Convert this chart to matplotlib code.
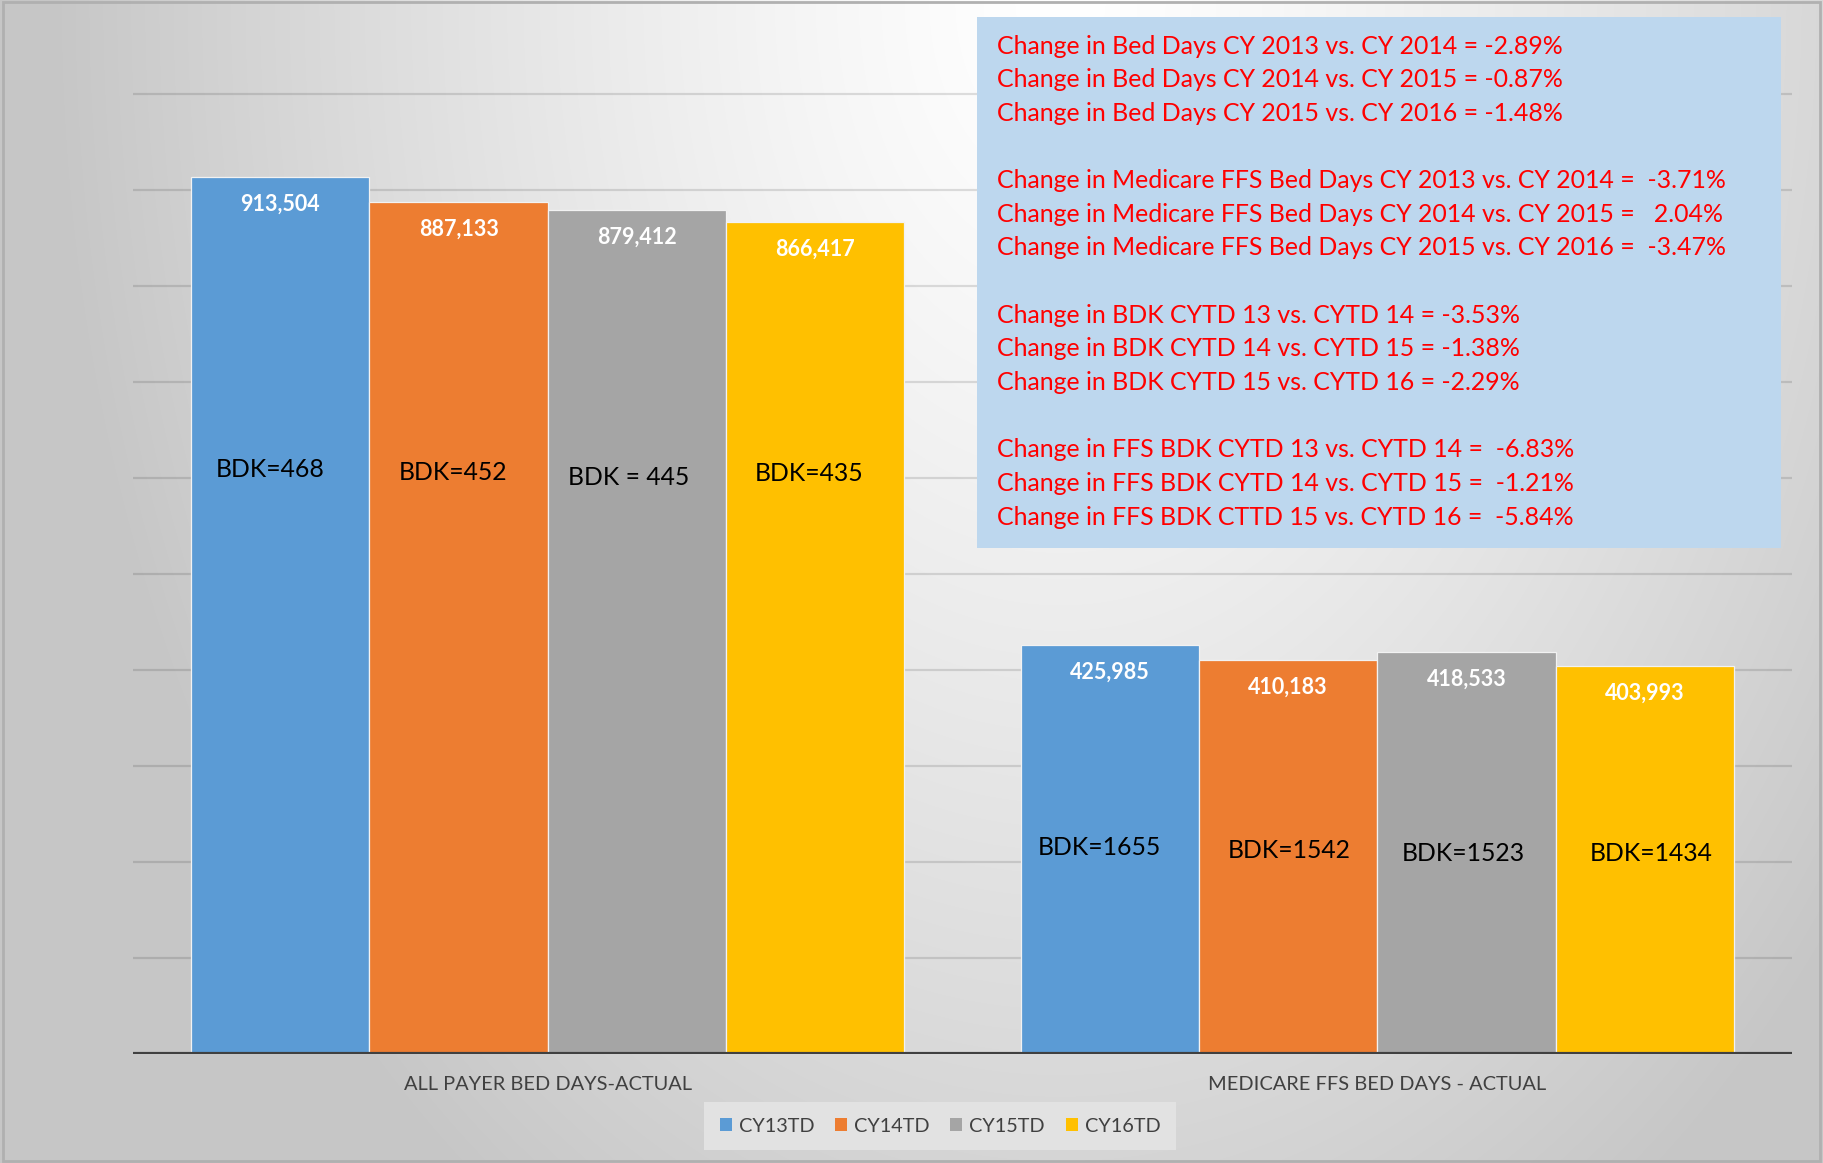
import numpy as np
import matplotlib
matplotlib.use("Agg")
import matplotlib.pyplot as plt
from matplotlib.patches import Rectangle, Patch

# ---------------- data ----------------
categories = ["ALL PAYER BED DAYS-ACTUAL", "MEDICARE FFS BED DAYS - ACTUAL"]
series_names = ["CY13TD", "CY14TD", "CY15TD", "CY16TD"]
cy13td = [913504, 425985]
cy14td = [887133, 410183]
cy15td = [879412, 418533]
cy16td = [866417, 403993]
bdk_cy13 = ["BDK=468", "BDK=1655"]
bdk_cy14 = ["BDK=452", "BDK=1542"]
bdk_cy15 = ["BDK = 445", "BDK=1523"]
bdk_cy16 = ["BDK=435", "BDK=1434"]
note_lines = [
    "Change in Bed Days CY 2013 vs. CY 2014 = -2.89%",
    "Change in Bed Days CY 2014 vs. CY 2015 = -0.87%",
    "Change in Bed Days CY 2015 vs. CY 2016 = -1.48%",
    "",
    "Change in Medicare FFS Bed Days CY 2013 vs. CY 2014 =  -3.71%",
    "Change in Medicare FFS Bed Days CY 2014 vs. CY 2015 =   2.04%",
    "Change in Medicare FFS Bed Days CY 2015 vs. CY 2016 =  -3.47%",
    "",
    "Change in BDK CYTD 13 vs. CYTD 14 = -3.53%",
    "Change in BDK CYTD 14 vs. CYTD 15 = -1.38%",
    "Change in BDK CYTD 15 vs. CYTD 16 = -2.29%",
    "",
    "Change in FFS BDK CYTD 13 vs. CYTD 14 =  -6.83%",
    "Change in FFS BDK CYTD 14 vs. CYTD 15 =  -1.21%",
    "Change in FFS BDK CTTD 15 vs. CYTD 16 =  -5.84%",
]

values = [cy13td, cy14td, cy15td, cy16td]
bdk_labels = [bdk_cy13, bdk_cy14, bdk_cy15, bdk_cy16]

# ---------------- layout / style ----------------
colors = ["#5B9BD5", "#ED7D31", "#A5A5A5", "#FFC000"]
bdk_label_y = [[609000, 215200], [606200, 212500], [600100, 209000], [605000, 209000]]
bdk_dx_px = [[-10, -10], [-6, 1], [-8, -3], [-6, 6]]

W, H = 1823, 1163
DPI = 100
FONT = "Lato"
fig = plt.figure(figsize=(W / DPI, H / DPI), dpi=DPI)

# background gradient
bg = fig.add_axes([0, 0, 1, 1], zorder=-10)
yy, xx = np.mgrid[0:H, 0:W]
cx = 1060.0
t = np.sqrt(((xx - cx) / 1000.0) ** 2 + (yy / 1450.0) ** 2)
val = 1.0 - 0.22 * np.clip(t, 0, 1.0) ** 1.3
img = np.dstack([val, val, val])
bg.imshow(img, aspect="auto", extent=[0, 1, 0, 1], origin="upper")
bg.set_xlim(0, 1)
bg.set_ylim(0, 1)
bg.axis("off")

# main axes
left_px, right_px = 133, 1792
base_px = 1054
px_per_unit = 960 / 1e6
ytop = 1.02e6
top_px = base_px - ytop * px_per_unit
ax = fig.add_axes([left_px / W, (H - base_px) / H, (right_px - left_px) / W,
                   (base_px - top_px) / H])
ax.set_facecolor("none")
ax.set_xlim(-0.5, 1.5)
ax.set_ylim(0, ytop)

x = np.arange(len(categories))
w = 0.215
offsets = (np.arange(4) - 1.5) * w

for gy in np.arange(100000, 1000001, 100000):
    ax.axhline(gy, color="black", alpha=0.12, lw=1.6, zorder=0)

for i in range(4):
    bars = ax.bar(x + offsets[i], values[i], w, color=colors[i],
                  edgecolor="#f2f2f2", linewidth=0.9, zorder=2)
    for j, b in enumerate(bars):
        ax.annotate(f"{values[i][j]:,}", (b.get_x() + b.get_width() / 2, values[i][j]),
                    xytext=(0, -19.5), textcoords="offset points", ha="center", va="center",
                    color="white", fontsize=15.5, fontweight="bold", family=FONT, zorder=4)
        ax.annotate(bdk_labels[i][j], (b.get_x() + b.get_width() / 2, bdk_label_y[i][j]),
                    xytext=(bdk_dx_px[i][j] * 0.72, 0), textcoords="offset points",
                    ha="center", va="center", color="black", fontsize=17.8,
                    family=FONT, zorder=4)

ax.axhline(0, color="#404040", lw=3, zorder=5)
for s in ax.spines.values():
    s.set_visible(False)
ax.set_yticks([])
ax.set_xticks(x)
ax.set_xticklabels(categories, fontsize=14.4, color="#404040", family=FONT)
ax.tick_params(axis="x", length=0, pad=16)

# legend
handles = [Patch(facecolor=c, edgecolor="none") for c in colors]
leg = fig.legend(handles, series_names, loc="center", ncol=4,
                 bbox_to_anchor=(940 / W, (H - 1126) / H), frameon=True,
                 prop={"family": FONT, "size": 14.3}, handlelength=0.6, handleheight=0.6,
                 handletextpad=0.35, columnspacing=1.05, borderpad=0.8)
leg.get_frame().set_facecolor("#e2e2e2")
leg.get_frame().set_edgecolor("none")
leg.get_frame().set_alpha(1)
leg.get_frame().set_boxstyle("square", pad=0)
for txt in leg.get_texts():
    txt.set_color("#404040")

# note box
bx0, bx1, by0, by1 = 977, 1781, 17, 548
fig.patches.append(Rectangle((bx0 / W, (H - by1) / H), (bx1 - bx0) / W, (by1 - by0) / H,
                             transform=fig.transFigure, facecolor="#BDD7EE",
                             edgecolor="none", zorder=6))
line_y0 = 46
pitch = 33.65
for k, line in enumerate(note_lines):
    if line:
        fig.text(997 / W, (H - (line_y0 + k * pitch)) / H, line, color="#FF0000",
                 fontsize=17.9, family=FONT, ha="left", va="center", zorder=7)

# outer border
fig.patches.append(Rectangle((0.0015, 0.002), 0.997, 0.996, transform=fig.transFigure,
                             fill=False, edgecolor="#b0b0b0", linewidth=2, zorder=8))

fig.savefig("out.png", dpi=DPI)
